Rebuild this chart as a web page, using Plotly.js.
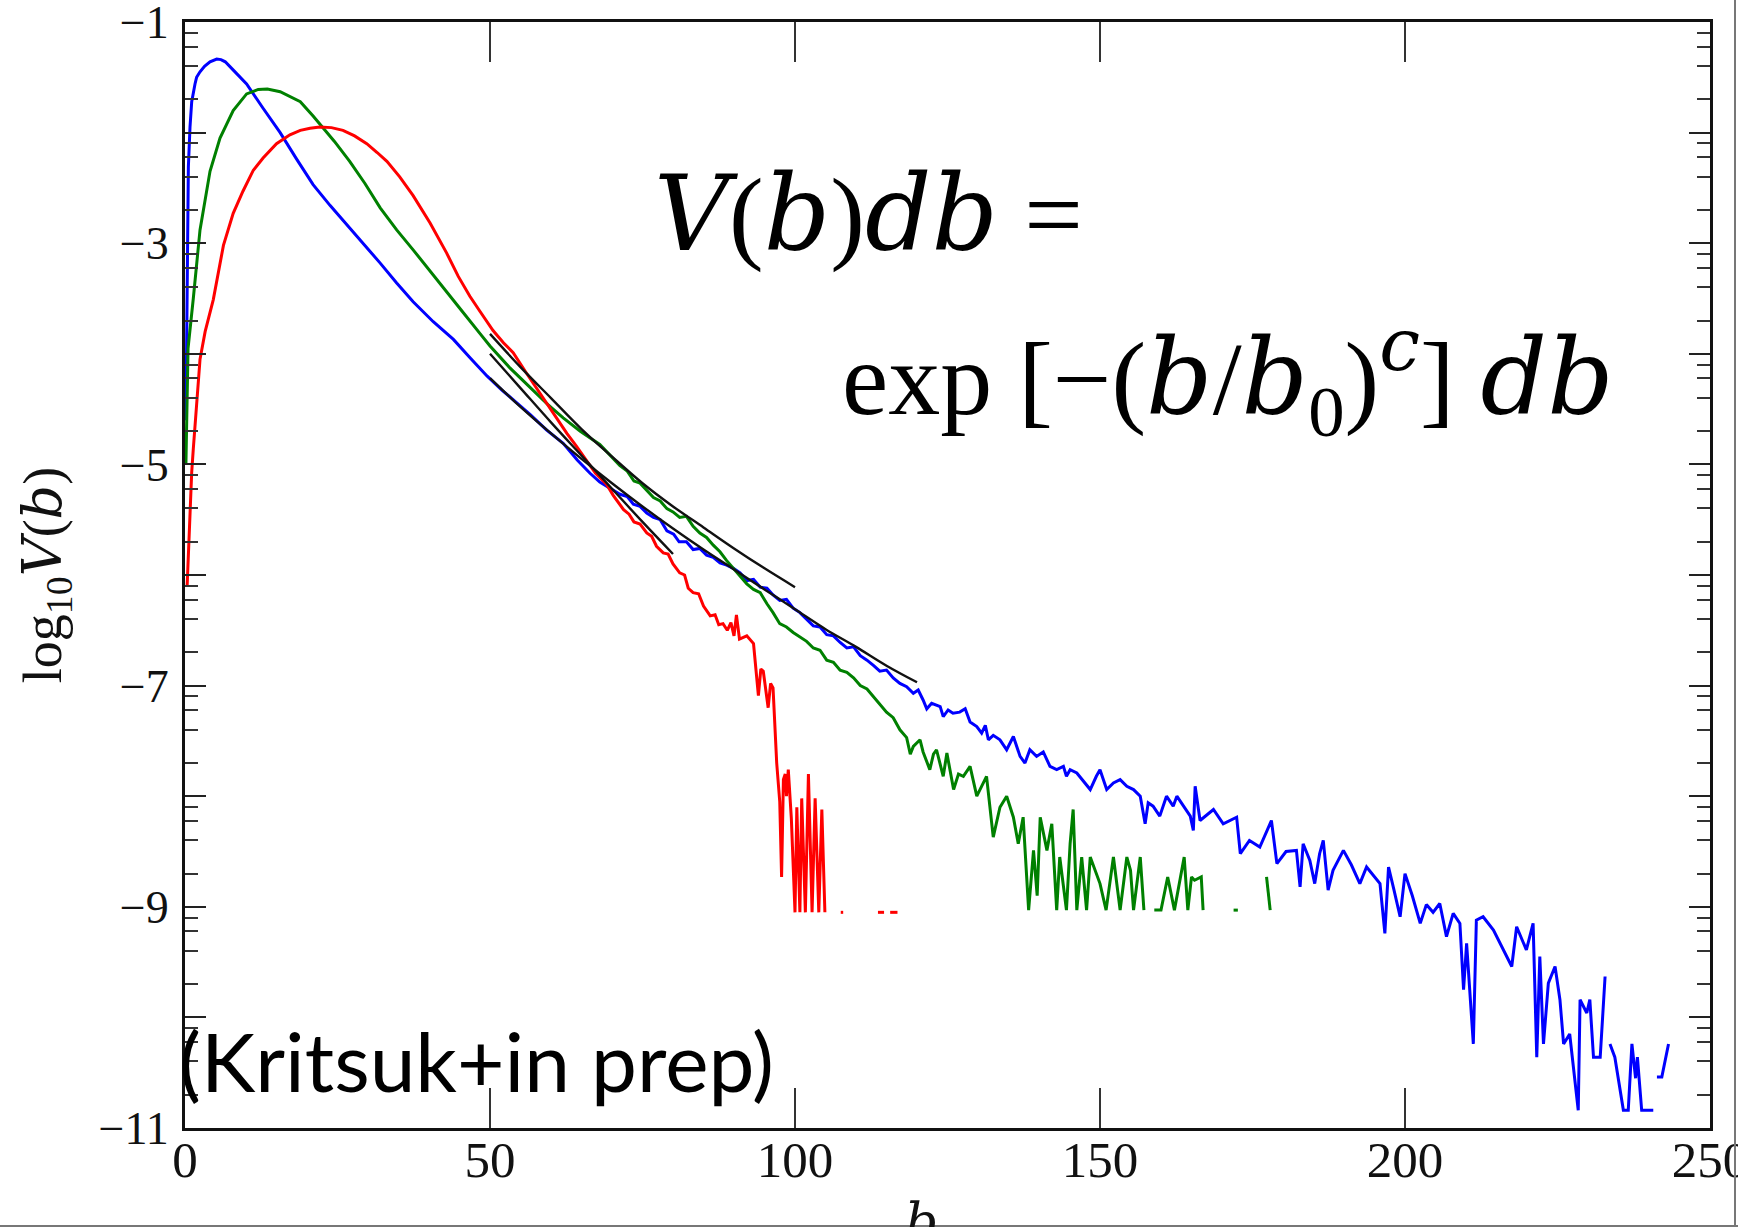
<!DOCTYPE html>
<html><head><meta charset="utf-8">
<script src="https://cdn.plot.ly/plotly-3.0.1.min.js"></script>
<style>html,body{margin:0;padding:0;background:#fff;overflow:hidden;}#chart{width:1738px;height:1227px;}</style>
</head><body><div id="chart"></div>
<script>
// ---------- data ----------
const blueB = [0.15,0.4,0.55,0.82,1.1,1.64,1.9,2.46,3.2,4.1,5.2,5.9,6.6,8.0,10.1,12.8,15.6,18.3,21.0,23.8,26.5,29.3,32.0,34.7,37.4,40.7,44.0,46.8,49.5,52.0,54.5,56.6,59.3,62.0,64.3,66.4,68.0,69.7,71.3,72.5,73.5,74.6,75.7,76.8,77.9,79.0,80.1,81.0,82.2,83.3,84.4,85.5,86.6,87.7,88.8,89.9,91.0,92.1,93.2,94.3,95.4,96.4,97.5,98.6,99.7,100.8,101.9,103.0,104.1,105.2,106.3,107.4,108.5,109.6,110.7,111.8,112.9,113.9,115.0,116.1,
 117.2,118.3,119.4,120.2,121.0,121.6,122.4,123.8,124.3,125.1,125.9,127.0,127.9,128.7,129.8,130.6,131.2,131.7,132.5,133.6,134.7,135.8,136.9,137.7,138.5,139.6,140.7,141.8,142.9,144.0,144.5,145.1,146.2,147.3,148.4,149.4,150.0,151.1,152.2,153.3,154.4,155.5,156.6,157.4,157.9,158.7,159.8,160.9,162.0,162.6,163.7,164.8,165.3,165.6,
 166.4,168.6,170.2,172.4,173.0,174.5,176.2,178.1,179.0,180.5,182.2,182.8,183.3,184.4,185.2,186.0,186.6,187.4,188.2,189.9,191.2,192.6,193.7,195.9,196.7,197.3,198.2,199.2,200.0,201.2,202.5,203.5,204.6,205.7,206.8,207.9,209.0,209.6,210.1,211.2,211.7,212.8,214.5,216.1,217.5,218.3,219.9,221.0,221.6,222.1,222.7,223.5,224.6,225.4,226.0,227.0,228.4,228.7,229.8,230.3,230.9,232.0,232.8,233.2,233.6,234.4,235.8,236.6,237.2,237.8,238.1,238.8,240.7,241.0,241.3,242.1,243.2];
const blueV = [-4.6,-2.9,-2.31,-1.95,-1.72,-1.56,-1.50,-1.45,-1.40,-1.36,-1.335,-1.34,-1.36,-1.44,-1.56,-1.78,-2.00,-2.24,-2.47,-2.66,-2.83,-3.01,-3.18,-3.36,-3.53,-3.71,-3.87,-4.04,-4.20,-4.33,-4.45,-4.55,-4.69,-4.81,-4.96,-5.08,-5.16,-5.22,-5.27,-5.29,-5.36,-5.38,-5.44,-5.48,-5.50,-5.60,-5.63,-5.70,-5.70,-5.77,-5.76,-5.82,-5.84,-5.89,-5.91,-5.94,-5.98,-6.05,-6.04,-6.11,-6.12,-6.18,-6.23,-6.22,-6.30,-6.34,-6.40,-6.46,-6.47,-6.54,-6.55,-6.61,-6.66,-6.65,-6.73,-6.77,-6.82,-6.87,-6.86,-6.93,
 -6.98,-7.01,-7.07,-7.04,-7.13,-7.21,-7.16,-7.19,-7.28,-7.22,-7.25,-7.24,-7.21,-7.33,-7.37,-7.43,-7.36,-7.49,-7.45,-7.49,-7.58,-7.46,-7.64,-7.70,-7.58,-7.64,-7.60,-7.73,-7.76,-7.73,-7.82,-7.76,-7.79,-7.87,-7.94,-7.82,-7.76,-7.94,-7.88,-7.85,-7.91,-7.94,-8.00,-8.25,-8.06,-8.09,-8.18,-8.00,-8.09,-8.00,-8.09,-8.18,-8.31,-7.91,
 -8.22,-8.12,-8.25,-8.19,-8.52,-8.40,-8.46,-8.22,-8.61,-8.50,-8.49,-8.82,-8.43,-8.58,-8.79,-8.52,-8.40,-8.85,-8.67,-8.49,-8.62,-8.79,-8.64,-8.79,-9.24,-8.64,-8.85,-9.09,-8.70,-8.90,-9.15,-8.98,-9.05,-8.97,-9.27,-9.06,-9.15,-9.75,-9.33,-10.24,-9.12,-9.09,-9.21,-9.39,-9.54,-9.18,-9.39,-9.15,-10.36,-9.45,-10.24,-9.69,-9.54,-9.84,-10.24,-10.15,-10.84,-9.84,-9.96,-9.84,-10.36,-10.36,-9.63,null,-10.24,-10.36,-10.84,-10.84,-10.24,-10.55,-10.36,-10.84,-10.84,null,-10.54,-10.54,-10.24];

const greenB = [0.15,0.5,1.36,2.46,4.1,5.74,7.9,10.1,12.0,13.5,15.6,18.9,21.0,22.1,24.5,27.0,29.5,32.0,34.7,37.4,40.1,42.9,45.5,48.4,50.0,53.3,56.6,59.5,62.0,64.8,68.0,69.7,71.3,72.5,73.6,74.6,75.7,76.8,77.9,79.0,80.0,81.1,82.2,83.3,84.4,85.5,86.6,87.7,88.8,89.9,91.0,92.1,93.2,94.3,95.4,96.4,97.5,98.6,99.7,100.8,101.9,103.0,104.1,105.2,106.3,107.4,108.5,109.6,110.7,111.8,112.9,113.9,115.0,116.1,117.2,118.3,118.9,119.4,120.5,121.0,122.1,122.7,123.2,124.3,124.9,126.0,126.8,127.6,128.7,129.8,131.4,132.5,133.6,134.7,135.8,136.6,137.4,138.3,139.1,139.7,140.2,141.3,142.1,142.9,143.4,144.5,145.1,145.6,146.2,147.0,147.8,148.4,150.0,151.0,152.2,153.3,154.4,155.0,155.5,156.6,157.2,158.0,158.9,160.0,161.1,162.2,163.8,164.4,165.0,165.5,166.6,166.9,169.0,171.9,172.6,175.0,177.3,177.9];
const greenV = [-5.0,-3.95,-3.50,-2.88,-2.35,-2.05,-1.80,-1.65,-1.61,-1.605,-1.63,-1.72,-1.85,-1.92,-2.08,-2.26,-2.46,-2.68,-2.88,-3.06,-3.25,-3.44,-3.62,-3.82,-3.93,-4.13,-4.31,-4.46,-4.58,-4.70,-4.82,-4.92,-5.01,-5.06,-5.15,-5.17,-5.24,-5.30,-5.33,-5.40,-5.43,-5.48,-5.47,-5.56,-5.62,-5.66,-5.73,-5.79,-5.87,-5.94,-6.02,-6.08,-6.13,-6.16,-6.26,-6.34,-6.44,-6.47,-6.52,-6.56,-6.60,-6.66,-6.68,-6.77,-6.79,-6.86,-6.88,-6.93,-7.00,-7.03,-7.10,-7.17,-7.24,-7.29,-7.40,-7.47,-7.62,-7.55,-7.49,-7.60,-7.76,-7.62,-7.58,-7.82,-7.61,-7.94,-7.80,-7.82,-7.73,-8.00,-7.82,-8.37,-8.10,-8.00,-8.19,-8.43,-8.19,-9.03,-8.49,-8.90,-8.19,-8.49,-8.25,-9.03,-8.55,-9.03,-8.43,-8.12,-9.03,-8.55,-9.03,-8.55,-8.79,-9.03,-8.55,-9.03,-8.55,-8.67,-9.03,-8.55,-9.03,null,-9.03,-9.03,-8.73,-9.03,-8.55,-9.03,-8.73,-8.76,-8.73,-9.03,null,-9.03,-9.03,null,-8.73,-9.03];

const redB = [0.35,0.55,1.1,1.36,2.46,3.3,4.64,6.3,7.9,9.5,11.2,12.8,15.0,17.2,18.9,20.5,22.1,24.0,25.9,27.8,29.8,31.5,33.1,35.2,37.4,40.2,42.9,44.8,46.7,48.4,50.5,52.2,53.8,55.8,58.0,60.3,62.6,64.1,65.6,67.3,68.4,69.1,70.2,71.3,71.9,72.8,73.6,74.6,75.7,76.5,77.3,78.4,79.2,80.0,81.1,81.9,82.5,83.3,84.2,85.0,86.1,86.9,87.5,88.2,88.9,89.5,90.0,90.4,90.9,92.1,93.2,94.0,94.4,94.8,95.3,95.6,96.0,96.4,97.0,97.5,97.8,98.1,98.4,98.6,98.9,99.4,100.0,100.3,100.8,101.1,101.7,102.2,102.8,103.3,103.9,104.4,104.9,106.0,107.5,107.9,110.0,113.6,114.6,115.1,115.6,116.8];
const redV = [-6.10,-5.80,-5.07,-4.86,-4.05,-3.80,-3.51,-3.02,-2.73,-2.53,-2.34,-2.23,-2.10,-2.02,-1.98,-1.96,-1.95,-1.955,-1.98,-2.03,-2.10,-2.18,-2.26,-2.40,-2.57,-2.82,-3.09,-3.30,-3.48,-3.62,-3.79,-3.90,-3.99,-4.16,-4.34,-4.53,-4.72,-4.83,-4.95,-5.08,-5.14,-5.18,-5.28,-5.37,-5.41,-5.45,-5.52,-5.54,-5.62,-5.65,-5.74,-5.80,-5.81,-5.90,-5.98,-6.00,-6.12,-6.16,-6.17,-6.28,-6.37,-6.36,-6.45,-6.44,-6.50,-6.43,-6.55,-6.36,-6.58,-6.55,-6.62,-7.09,-6.85,-6.87,-7.10,-7.20,-6.98,-7.02,-7.70,-8.05,-8.73,-7.85,-7.80,-8.00,-7.76,-8.20,-9.05,-8.10,-9.05,-8.02,-9.05,-7.80,-9.05,-8.02,-9.05,-8.12,-9.05,null,-9.05,-9.05,null,-9.05,-9.05,null,-9.05,-9.05];

// stretched-exponential fit curves (black)
const fitGreenB = [50,55,60,65,70,75,80,85,90,95,100];
const fitGreenV = [-3.82,-4.12,-4.40,-4.68,-4.93,-5.17,-5.38,-5.57,-5.76,-5.94,-6.11];
const fitBlueB = [50,55,60,65,70,75,80,85,90,95,100,105,110,115,120];
const fitBlueV = [-4.22,-4.48,-4.72,-4.95,-5.17,-5.38,-5.58,-5.77,-5.95,-6.13,-6.31,-6.49,-6.65,-6.82,-6.97];
const fitRedB = [50,55,60,65,70,75,80];
const fitRedV = [-4.00,-4.31,-4.62,-4.92,-5.22,-5.52,-5.81];

// ---------- axes ticks ----------
const xTickVals = [0,50,100,150,200,250];
const xTickText = ['0','50','100','150','200','250'];
const yTickVals = [-11,-10,-9,-8,-7,-6,-5,-4,-3,-2,-1];
const yTickText = ['\u221211',' ','\u22129',' ','\u22127',' ','\u22125',' ','\u22123',' ','\u22121'];
const yMinorVals = [];
for (let d = -11; d < -1; d++) { [2,4,6,8].forEach(k => yMinorVals.push(d + Math.log10(k))); }

// ---------- layout helpers (pixel -> paper) ----------
const L = 185, T = 22, W = 1525, H = 1106;
const px = x => (x - L) / W;
const py = y => (T + H - y) / H;

const serif = 'Liberation Serif, Times New Roman, serif';
// math italic letters: serif italic face
const mi = s => '<span style="font-family:\'DejaVu Serif\',serif;font-style:italic">' + s + '</span>';

const traces = [
  {x: blueB, y: blueV, mode: 'lines', line: {color: '#0000ff', width: 3}, connectgaps: false},
  {x: greenB, y: greenV, mode: 'lines', line: {color: '#008000', width: 3}, connectgaps: false},
  {x: redB, y: redV, mode: 'lines', line: {color: '#ff0000', width: 3}, connectgaps: false},
  {x: fitGreenB, y: fitGreenV, mode: 'lines', line: {color: '#111', width: 2.4, shape: 'spline'}},
  {x: fitBlueB, y: fitBlueV, mode: 'lines', line: {color: '#111', width: 2.4, shape: 'spline'}},
  {x: fitRedB, y: fitRedV, mode: 'lines', line: {color: '#111', width: 2.4, shape: 'spline'}}
];

const layout = {
  width: 1738, height: 1227,
  margin: {l: L, r: 1738 - L - W, t: T, b: 1227 - T - H, pad: 0},
  paper_bgcolor: '#fff', plot_bgcolor: '#fff',
  showlegend: false, hovermode: false,
  xaxis: {
    range: [0, 250], tickmode: 'array', tickvals: xTickVals, ticktext: xTickText,
    ticks: 'inside', ticklen: 40, tickwidth: 2, tickcolor: '#333',
    showline: true, linecolor: '#111', linewidth: 3, mirror: 'ticks',
    showgrid: false, zeroline: false, ticklabeloverflow: 'allow',
    tickfont: {family: serif, size: 51, color: '#111'}, ticklabelstandoff: -15
  },
  yaxis: {
    range: [-11, -1], tickmode: 'array', tickvals: yTickVals, ticktext: yTickText,
    ticks: 'inside', ticklen: 21, tickwidth: 2, tickcolor: '#222',
    showline: true, linecolor: '#111', linewidth: 3, mirror: 'ticks',
    showgrid: false, zeroline: false, ticklabeloverflow: 'allow',
    minor: {tickmode: 'array', tickvals: yMinorVals, ticks: 'inside', ticklen: 13, tickwidth: 2, tickcolor: '#333', showgrid: false},
    tickfont: {family: serif, size: 46, color: '#111'}, ticklabelstandoff: 4,
    title: {text: 'log<sub>10</sub>' + mi('V') + '(' + mi('b') + ')', font: {family: serif, size: 54, color: '#111'}, standoff: 20}
  },
  annotations: [
    {xref: 'paper', yref: 'paper', x: px(921), y: py(1222), xanchor: 'center', yanchor: 'middle', showarrow: false,
     text: mi('b'), font: {family: serif, size: 52, color: '#111'}},
    {xref: 'paper', yref: 'paper', x: px(652), y: py(214), xanchor: 'left', yanchor: 'middle', showarrow: false,
     text: mi('V') + '(' + mi('b') + ')' + mi('db') + ' =', font: {family: serif, size: 104, color: '#000'}},
    {xref: 'paper', yref: 'paper', x: px(840), y: py(377), xanchor: 'left', yanchor: 'middle', showarrow: false,
     text: 'exp [\u2212(' + mi('b') + '/' + mi('b') + '<sub>0</sub>)<sup>' + mi('c') + '</sup>] ' + mi('db'), font: {family: serif, size: 104, color: '#000'}},
    {xref: 'paper', yref: 'paper', x: px(177), y: py(1060), xanchor: 'left', yanchor: 'middle', showarrow: false,
     text: '(Kritsuk+in prep)', font: {family: 'Lato, Open Sans, sans-serif', size: 82, color: '#000'}}
  ],
  shapes: [
    {type: 'line', xref: 'paper', yref: 'paper', x0: px(1735), x1: px(1735), y0: py(0), y1: py(1227), line: {color: '#777', width: 2}},
    {type: 'line', xref: 'paper', yref: 'paper', x0: px(0), x1: px(1738), y0: py(1226), y1: py(1226), line: {color: '#777', width: 2}}
  ]
};

Plotly.newPlot('chart', traces, layout, {staticPlot: true, displayModeBar: false});
</script>
</body></html>
